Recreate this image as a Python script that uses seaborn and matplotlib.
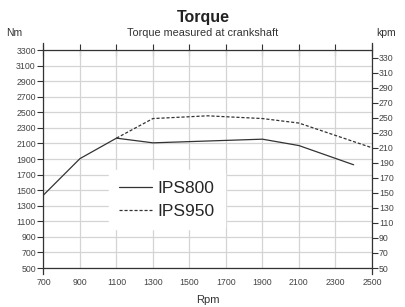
import pandas as pd
import seaborn as sns
import matplotlib.pyplot as plt

# values
rpm_800 = [700, 900, 1100, 1300, 1900, 2100, 2400]
nm_800 = [1437, 1905, 2168, 2108, 2155, 2073, 1826]
rpm_950 = [1100, 1300, 1600, 1900, 2100, 2500]
nm_950 = [2168, 2420, 2455, 2420, 2362, 2045]
x_ticks = list(range(700, 2501, 200))
nm_ticks = list(range(500, 3301, 200))
kpm_ticks = list(range(50, 331, 20))

df = pd.concat([
    pd.DataFrame({"Rpm": rpm_800, "Nm": nm_800, "model": "IPS800"}),
    pd.DataFrame({"Rpm": rpm_950, "Nm": nm_950, "model": "IPS950"}),
])

sns.set_style("white")
plt.rcParams["font.family"] = ["Liberation Sans", "DejaVu Sans"]

fig = plt.figure(figsize=(4.06, 3.07), dpi=100)
ax = fig.add_axes([0.107, 0.127, 0.809, 0.71])

sns.lineplot(
    data=df, x="Rpm", y="Nm", style="model",
    dashes={"IPS800": "", "IPS950": (2.5, 1.5)},
    color="#333333", linewidth=0.9, ax=ax, sort=False
)

ax.set_xlim(700, 2500)
ax.set_ylim(500, 3300)
ax.set_xticks(x_ticks)
ax.set_yticks(nm_ticks)
ax.grid(True, color="#d4d4d4", linewidth=0.9)
ax.set_axisbelow(True)

for s in ["left", "right", "top", "bottom"]:
    ax.spines[s].set_color("#333333")
    ax.spines[s].set_linewidth(0.9)
ax.spines["left"].set_bounds(420, 3390)
ax.spines["right"].set_bounds(420, 3390)

ax.tick_params(axis="y", labelsize=6.3, colors="#333333", length=4, width=0.8,
               labelcolor="#444444", pad=1.5)
ax.tick_params(axis="x", labelsize=6.3, colors="#333333", length=4, width=0.8,
               labelcolor="#444444", pad=3)
ax.set_xlabel("Rpm", fontsize=8, color="#333333", labelpad=6)
ax.set_ylabel("")

top = ax.secondary_xaxis("top")
top.set_xticks(x_ticks)
top.tick_params(direction="inout", length=8, width=0.8, colors="#333333", labeltop=False)
top.spines["top"].set_visible(False)

ax2 = ax.twinx()
ax2.set_ylim(50, 340)
ax2.set_yticks(kpm_ticks)
ax2.tick_params(axis="y", labelsize=6.3, colors="#333333", length=4, width=0.8,
                labelcolor="#444444", pad=1)
for s in ax2.spines.values():
    s.set_visible(False)
ax2.grid(False)

fig.text(0.5, 0.942, "Torque", ha="center", va="center", fontsize=11.5, fontweight="bold", color="#222222")
fig.text(0.5, 0.893, "Torque measured at crankshaft", ha="center", va="center", fontsize=7.8, color="#333333")
fig.text(0.034, 0.893, "Nm", ha="center", va="center", fontsize=7.5, color="#333333")
fig.text(0.95, 0.893, "kpm", ha="center", va="center", fontsize=7.5, color="#333333")

handles, labels = ax.get_legend_handles_labels()
ax.legend(handles, labels, loc="center", bbox_to_anchor=(0.411, 0.349),
          bbox_transform=fig.transFigure, fontsize=12.5, frameon=True,
          facecolor="white", edgecolor="white", framealpha=1,
          handlelength=1.9, handletextpad=0.3, labelspacing=0.45,
          borderpad=0.6, title=None)

fig.savefig("out.png", dpi=100)
